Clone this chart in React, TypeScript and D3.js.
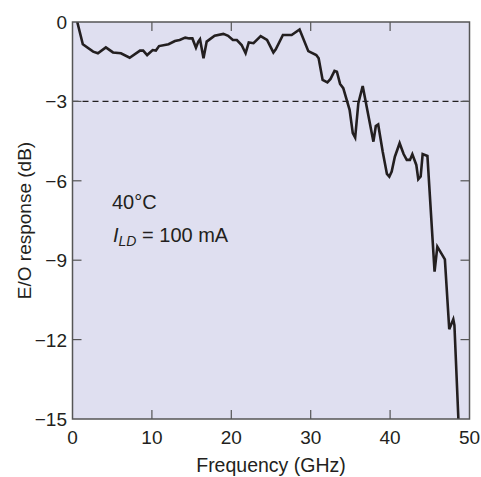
import React from 'react';
import * as d3 from 'd3';

// E/O response vs frequency
const freqGHz = [
  0.6, 1.3, 2.6, 3.2, 4.2, 5.1, 6.1, 7.2, 8.5, 8.9, 9.4, 10.1, 10.5, 10.9, 12.1, 12.9,
  13.5, 14.2, 14.7, 15.1, 15.55, 15.85, 16.06, 16.5, 16.9, 17.9, 19.0, 19.6, 20.2, 20.7,
  21.3, 21.8, 22.2, 22.8, 23.7, 24.5, 25.3, 25.6, 26.5, 27.6, 28.6, 29.7, 30.7, 31.0,
  31.5, 32.1, 32.5, 33.0, 33.3, 33.7, 34.1, 34.9, 35.3, 35.6, 36.0, 36.55, 37.05, 37.9,
  38.2, 38.5, 39.07, 39.6, 39.9, 40.2, 40.6, 41.2, 41.7, 42.1, 42.5, 42.8, 43.3, 43.55,
  43.85, 44.1, 44.7, 45.6, 45.95, 46.9, 47.45, 47.96, 48.1, 48.6,
];
const responseDb = [
  0, -0.84, -1.12, -1.18, -0.96, -1.15, -1.18, -1.35, -1.08, -1.08, -1.25, -1.06, -1.08, -0.91, -0.84, -0.72,
  -0.68, -0.59, -0.62, -0.62, -0.97, -0.74, -0.65, -1.37, -0.74, -0.52, -0.45, -0.52, -0.68, -0.68,
  -0.87, -1.18, -0.77, -0.8, -0.53, -0.68, -1.15, -1.03, -0.49, -0.49, -0.28, -1.1, -1.25, -1.37,
  -2.19, -2.28, -2.15, -1.85, -1.88, -2.34, -2.5, -3.32, -4.2, -4.37, -3.07, -2.42, -3.2, -4.52,
  -3.93, -3.87, -4.9, -5.74, -5.84, -5.65, -5.09, -4.58, -4.99, -5.21, -5.21, -5.0, -5.4, -5.94,
  -5.84, -4.99, -5.06, -9.43, -8.49, -8.97, -11.61, -11.23, -11.45, -15,
];
const xTicks = [0, 10, 20, 30, 40, 50];
const yTicks = [0, -3, -6, -9, -12, -15];

const W = 481;
const H = 477;
const left = 72.5, right = 469.5, top = 22, bottom = 419;
const font = '"Liberation Sans", Arial, sans-serif';
const ink = '#231f20';

export default function App() {
  const x = d3.scaleLinear().domain([0, 50]).range([left, right]);
  const y = d3.scaleLinear().domain([0, -15]).range([top, bottom]);
  const pts = freqGHz.map((f, i) => [f, responseDb[i]] as [number, number]);
  const line = d3.line<[number, number]>().x(d => x(d[0])).y(d => y(d[1]));
  const tick = 9;

  return (
    <svg width={W} height={H} style={{ position: 'absolute', left: 0, top: 0, background: '#fff' }}>
      <defs>
        <clipPath id="plot">
          <rect x={left} y={top} width={right - left} height={bottom - top} />
        </clipPath>
      </defs>
      <rect x={left} y={top} width={right - left} height={bottom - top} fill="#dfdff0" />

      <line x1={left} x2={right} y1={y(-3)} y2={y(-3)} stroke={ink} strokeWidth={1.2} strokeDasharray="6,4" />

      <path d={line(pts) || ''} fill="none" stroke={ink} strokeWidth={2.6} strokeLinejoin="miter" clipPath="url(#plot)" />

      {/* ticks, pointing inward on all four sides */}
      {xTicks.slice(1, -1).map(t => (
        <g key={'xt' + t} stroke="#555" strokeWidth={1.2}>
          <line x1={x(t)} x2={x(t)} y1={bottom} y2={bottom - tick} />
          <line x1={x(t)} x2={x(t)} y1={top} y2={top + tick} />
        </g>
      ))}
      {yTicks.slice(1, -1).map(t => (
        <g key={'yt' + t} stroke="#555" strokeWidth={1.2}>
          <line x1={left} x2={left + tick} y1={y(t)} y2={y(t)} />
          <line x1={right} x2={right - tick} y1={y(t)} y2={y(t)} />
        </g>
      ))}
      <rect x={left} y={top} width={right - left} height={bottom - top} fill="none" stroke="#555" strokeWidth={1.5} />

      {xTicks.map(t => (
        <text key={'xl' + t} x={x(t)} y={444} textAnchor="middle" fontFamily={font} fontSize={19} fill={ink}>
          {t}
        </text>
      ))}
      {yTicks.map(t => (
        <text key={'yl' + t} x={67} y={y(t) + 7} textAnchor="end" fontFamily={font} fontSize={19} fill={ink}>
          {t === 0 ? '0' : '\u2212' + Math.abs(t)}
        </text>
      ))}

      <text x={(left + right) / 2} y={472} textAnchor="middle" fontFamily={font} fontSize={19.5} fill={ink}>
        Frequency (GHz)
      </text>
      <text
        transform={`translate(31,${(top + bottom) / 2}) rotate(-90)`}
        textAnchor="middle"
        fontFamily={font}
        fontSize={19}
        fill={ink}
      >
        E/O response (dB)
      </text>

      <text x={112} y={209} fontFamily={font} fontSize={20} fill={ink}>40°C</text>
      <text x={113} y={242} fontFamily={font} fontSize={20} fill={ink}>
        <tspan fontStyle="italic">I</tspan>
        <tspan fontStyle="italic" fontSize={14} dy={4}>LD</tspan>
        <tspan dy={-4}> = 100 mA</tspan>
      </text>
    </svg>
  );
}
